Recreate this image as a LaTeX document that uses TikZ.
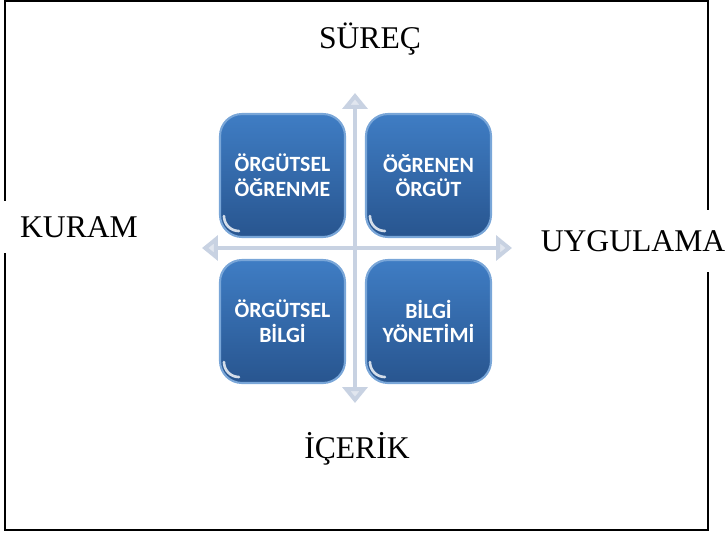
\documentclass[tikz,border=0pt]{standalone}
\usepackage{fontspec}
\setmainfont{Liberation Serif}
\newfontfamily\boxfont{Carlito}
\usetikzlibrary{arrows.meta}

\definecolor{boxtop}{HTML}{3F7DC4}
\definecolor{boxbot}{HTML}{28558F}
\definecolor{boxrim}{HTML}{79A6D8}
\definecolor{axiscol}{HTML}{C8D2E2}

\tikzset{
  quad/.style={rounded corners=0.44cm, minimum width=2.5cm, minimum height=2.46cm,
    top color=boxtop, bottom color=boxbot, draw=boxrim, line width=1.2pt,
    text=white, align=center, font=\boxfont\bfseries\fontsize{12.4}{14}\selectfont},
  lbl/.style={fill=white, font=\fontsize{18}{20}\selectfont},
  axis/.style={draw=axiscol, line width=2.4pt,
    {Triangle[length=9pt, width=14pt, fill=axiscol!55]}-{Triangle[length=9pt, width=14pt, fill=axiscol!55]}}
}

\begin{document}
\begin{tikzpicture}[x=0.02cm, y=-0.02cm]
    \useasboundingbox (0,0) rectangle (727,534);

    % Cadre
    \draw[line width=1.3pt] (5,1) rectangle (708,530);

    % Axes
    \coordinate (haut) at (355,93);
    \coordinate (bas) at (355,403);
    \coordinate (gauche) at (202,248);
    \coordinate (droite) at (512,248);
    \draw[axis] (bas) -- (haut);
    \draw[axis] (gauche) -- (droite);

    % Boites
    \node[quad] (og) at (282.5,175.5) {ÖRGÜTSEL\\ÖĞRENME};
    \node[quad] (oo) at (428.5,175.5) {ÖĞRENEN\\ÖRGÜT};
    \node[quad] (ob) at (282.5,321.5) {ÖRGÜTSEL\\BİLGİ};
    \node[quad] (by) at (428.5,321.5) {BİLGİ\\YÖNETİMİ};

    % Reflets
    \foreach \b in {og,oo,ob,by}
      \draw[white, opacity=0.8, line width=1.5pt, line cap=round]
        ([shift={(5,-22)}]\b.south west) arc[start angle=180, end angle=270, radius=0.3cm];

    % Libelles
    \node[lbl] (surec) at (370,39) {SÜREÇ};
    \node[lbl] (icerik) at (357,449) {İÇERİK};
    \node[lbl, inner xsep=0.4cm, minimum height=1.06cm] (kuram) at (79,227) {KURAM};
    \node[lbl, inner xsep=0.1cm, minimum height=1.24cm] (uygulama) at (633,241) {UYGULAMA};

\end{tikzpicture}
\end{document}
